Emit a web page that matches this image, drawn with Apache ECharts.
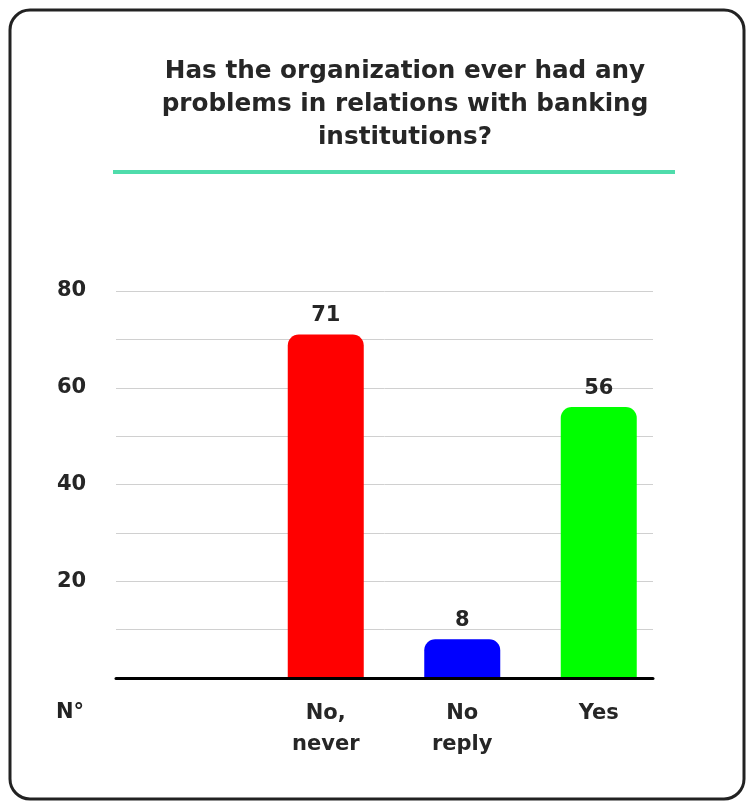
<!DOCTYPE html>
<html><head><meta charset="utf-8">
<script src="https://cdn.jsdelivr.net/npm/echarts@6/dist/echarts.min.js"></script>
<style>html,body{margin:0;padding:0;background:#fff}#c{width:747px;height:802px}</style>
</head><body><div id="c"></div>
<script>
const categories = ['', 'No,\nnever', 'No\nreply', 'Yes'];
const values = [null, 71, 8, 56];
const barColors = ['#ffffff', '#ff0000', '#0000ff', '#00ff00'];
const titleLines = ['Has the organization ever had any', 'problems in relations with banking', 'institutions?'];
const yMin = 0, yMax = 80, yStep = 10;

const FONT = 'DejaVu Sans';
const chart = echarts.init(document.getElementById('c'), null, {renderer: 'canvas'});
chart.setOption({
  animation: false,
  backgroundColor: '#fff',
  title: {
    text: titleLines.join('\n'), left: 400, top: 50, textAlign: 'center',
    textStyle: {fontFamily: FONT, fontSize: 24.7, fontWeight: 'bold', color: '#262626', lineHeight: 33, align: 'center'}
  },
  graphic: [
    {type: 'rect', shape: {x: 10, y: 10, width: 734, height: 789, r: 20}, style: {fill: 'none', stroke: '#222', lineWidth: 3}, z: 0},
    {type: 'line', shape: {x1: 113, y1: 172, x2: 675, y2: 172}, style: {stroke: '#4fdcab', lineWidth: 4}},
    {type: 'text', left: 56, top: 702, style: {text: 'N°', font: 'bold 21px "DejaVu Sans"', fill: '#222'}}
  ],
  grid: [
    {left: 121, top: 291, width: 546, height: 387},
    {left: 116, top: 291, width: 537, height: 387}
  ],
  xAxis: [
    {type: 'category', gridIndex: 0, data: categories,
     axisLine: {show: false}, axisTick: {show: false},
     axisLabel: {margin: 20, fontFamily: FONT, fontSize: 21, fontWeight: 'bold', color: '#262626', lineHeight: 31}},
    {type: 'category', gridIndex: 1, data: categories, axisLabel: {show: false}, axisTick: {show: false},
     axisLine: {show: true, lineStyle: {color: '#000', width: 3}}, z: 5}
  ],
  yAxis: [
    {type: 'value', gridIndex: 0, min: yMin, max: yMax, interval: yStep, show: false, splitLine: {show: false}},
    {type: 'value', gridIndex: 1, min: yMin, max: yMax, interval: yStep,
     axisLine: {show: false}, axisTick: {show: false},
     splitLine: {show: true, lineStyle: {color: '#d0d0d0', width: 1}},
     axisLabel: {align: 'left', margin: 59, fontFamily: FONT, fontSize: 21, fontWeight: 'bold', color: '#262626',
       formatter: v => (v > 0 && v % 20 === 0) ? String(v) : ''}}
  ],
  series: [{
    type: 'bar', xAxisIndex: 0, yAxisIndex: 0, barWidth: 76, z: 3,
    data: values.map((v, i) => ({value: v, itemStyle: {color: barColors[i], borderRadius: [11, 11, 0, 0]}})),
    label: {show: true, position: 'top', distance: 8, fontFamily: FONT, fontSize: 21, fontWeight: 'bold', color: '#262626'}
  }]
});
</script></body></html>
